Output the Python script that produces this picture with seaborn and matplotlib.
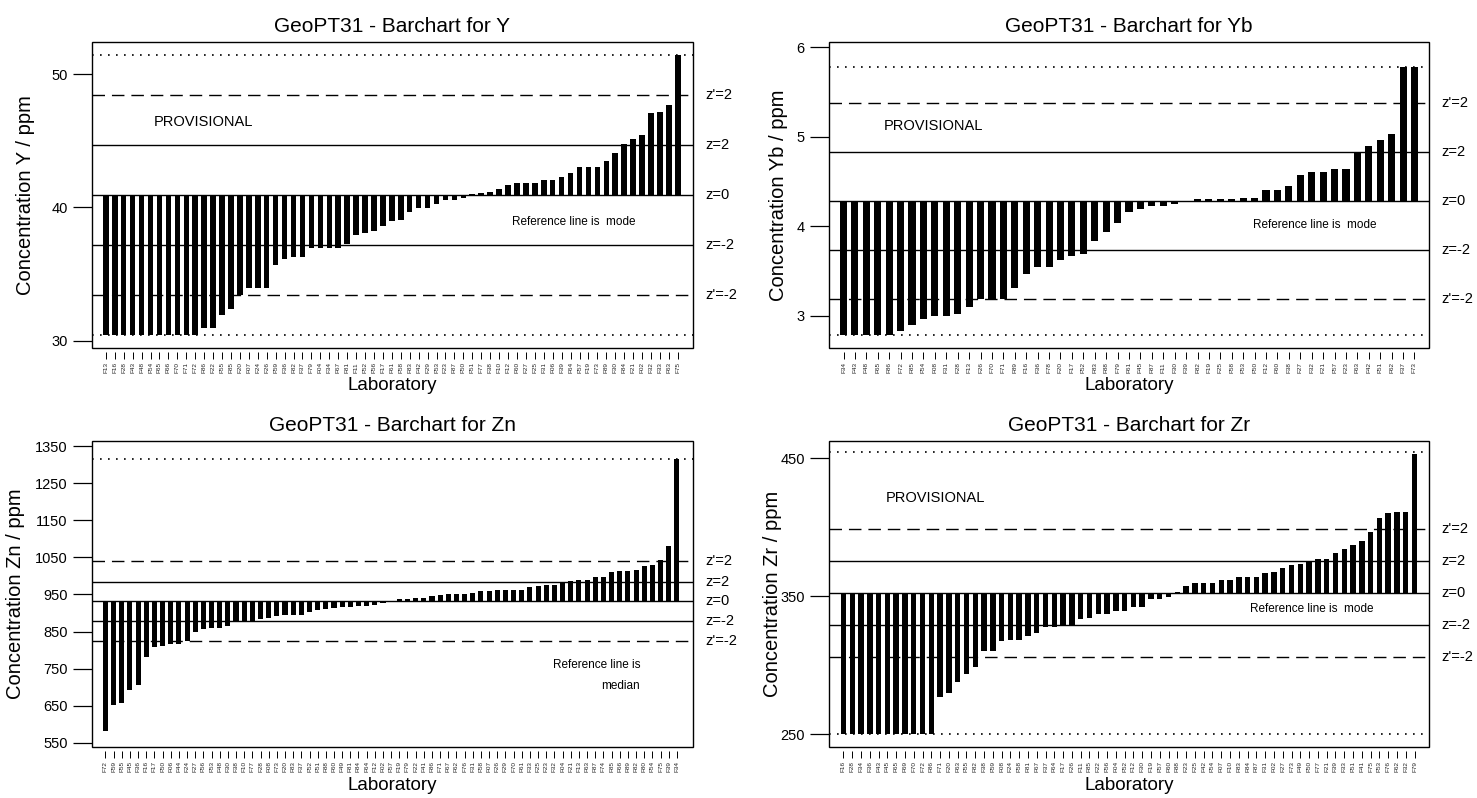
import numpy as np
import pandas as pd
import matplotlib
matplotlib.use("Agg")
import matplotlib.pyplot as plt
import matplotlib.transforms as mtrans
from matplotlib.patches import Rectangle
import seaborn as sns

sns.set_style("ticks")
plt.rcParams['font.family'] = ['Liberation Sans', 'DejaVu Sans']
plt.rcParams['text.color'] = 'black'
plt.rcParams['xtick.color'] = 'black'
plt.rcParams['ytick.color'] = 'black'

# ---------------- data ----------------
y_labels = ["F13", "F16", "F28", "F43", "F48", "F54", "F65", "F66", "F70", "F71", "F72", "F86", "F22",
            "F55", "F85", "F20", "F07", "F24", "F26", "F59", "F36", "F82", "F37", "F79", "F04", "F34",
            "F67", "F81", "F11", "F52", "F56", "F17", "F61", "F58", "F83", "F42", "F29", "F53", "F23",
            "F87", "F50", "F51", "F77", "F38", "F10", "F12", "F60", "F27", "F25", "F31", "F06", "F39",
            "F64", "F57", "F19", "F73", "F89", "F30", "F84", "F21", "F02", "F32", "F33", "F63", "F75"]
y_values = [30.4] * 11 + [30.95, 30.95, 31.9, 32.4, 33.4, 33.95, 33.95, 33.95, 35.65, 36.1, 36.25, 36.25,
            36.95, 36.95, 36.95, 36.95, 37.25, 37.95, 38.08, 38.2, 38.6, 38.95, 39.05, 39.63, 39.93,
            39.93, 40.25, 40.53, 40.53, 40.7, 41.0, 41.1, 41.13, 41.38, 41.65, 41.85, 41.85, 41.85,
            42.08, 42.08, 42.28, 42.58, 43.0, 43.05, 43.05, 43.5, 44.05, 44.75, 45.13, 45.45, 47.1,
            47.15, 47.68, 51.4]
y_ref = 40.9
y_z = [44.65, 37.15]          # z=2, z=-2
y_zp = [48.4, 33.4]           # z'=2, z'=-2
y_lim_lines = [51.4, 30.4]
y_ticks = [30, 40, 50]

yb_labels = ["F34", "F43", "F48", "F65", "F86", "F72", "F85", "F54", "F08", "F31", "F28", "F13", "F26",
             "F70", "F71", "F89", "F16", "F36", "F78", "F20", "F17", "F52", "F83", "F88", "F79", "F61",
             "F45", "F87", "F11", "F30", "F39", "F82", "F19", "F25", "F58", "F53", "F50", "F12", "F60",
             "F38", "F27", "F32", "F21", "F57", "F23", "F63", "F42", "F51", "F62", "F37", "F73"]
yb_values = [2.79] * 5 + [2.83, 2.90, 2.96, 3.00, 3.00, 3.02, 3.10, 3.19, 3.19, 3.19, 3.31, 3.47, 3.54,
             3.54, 3.62, 3.67, 3.69, 3.83, 3.93, 4.04, 4.16, 4.19, 4.22, 4.22, 4.25, 4.27, 4.30, 4.30,
             4.30, 4.30, 4.31, 4.31, 4.40, 4.40, 4.45, 4.57, 4.61, 4.61, 4.64, 4.64, 4.83, 4.89, 4.96,
             5.03, 5.78, 5.78]
yb_ref = 4.28
yb_z = [4.826, 3.733]
yb_zp = [5.378, 3.189]
yb_lim_lines = [5.778, 2.79]
yb_ticks = [3, 4, 5, 6]

zn_labels = ["F72", "F59", "F55", "F45", "F36", "F16", "F17", "F50", "F06", "F44", "F24", "F27", "F56",
             "F53", "F48", "F30", "F38", "F10", "F77", "F28", "F08", "F73", "F20", "F83", "F37", "F52",
             "F51", "F88", "F60", "F49", "F81", "F84", "F64", "F12", "F02", "F57", "F19", "F79", "F22",
             "F41", "F86", "F71", "F67", "F62", "F76", "F31", "F58", "F07", "F26", "F29", "F70", "F61",
             "F33", "F25", "F23", "F32", "F04", "F21", "F13", "F63", "F87", "F74", "F85", "F66", "F89",
             "F82", "F80", "F54", "F75", "F39", "F34"]
zn_values = [582, 651, 657.5, 692, 706, 782, 809, 811.5, 817.6, 817.6, 825, 850, 857.2, 859, 859, 864.4,
             875.2, 877, 877, 884, 886, 892.3, 895, 895, 895, 902, 908.5, 911, 913, 916.5, 917.4, 918.3,
             920, 922.9, 926.5, 929.1, 938, 938, 941.7, 941.7, 946, 948, 952.5, 952.5, 952.5, 955.2,
             960.6, 960.6, 962.4, 962.4, 962.4, 963.3, 970.5, 974.1, 976.8, 976.8, 984.9, 985.8, 990.3,
             990.3, 996.6, 998.4, 1009.2, 1011.9, 1011.9, 1014.6, 1025.4, 1028.1, 1041.6, 1080.2, 1315.8]
zn_ref = 932.7
zn_z = [984.9, 879.7]
zn_zp = [1039.7, 825.7]
zn_lim_lines = [1315.8]
zn_ticks = [550, 650, 750, 850, 950, 1050, 1150, 1250, 1350]

zr_labels = ["F16", "F28", "F34", "F36", "F43", "F45", "F65", "F69", "F70", "F72", "F86", "F71", "F20",
             "F63", "F55", "F82", "F38", "F59", "F08", "F24", "F58", "F81", "F67", "F37", "F64", "F17",
             "F26", "F11", "F85", "F22", "F56", "F04", "F52", "F12", "F30", "F19", "F57", "F60", "F88",
             "F23", "F25", "F42", "F54", "F07", "F10", "F83", "F84", "F87", "F31", "F02", "F27", "F73",
             "F49", "F50", "F77", "F21", "F39", "F33", "F51", "F41", "F75", "F53", "F76", "F62", "F32",
             "F79"]
zr_values = [250.2] * 11 + [276.5, 279.4, 288, 293.3, 298.6, 310.4, 310.4, 317.4, 318.4, 318.4, 321.2,
             323.6, 327.7, 327.7, 328.7, 328.7, 333.3, 334.2, 337.4, 337.4, 339.0, 339.0, 342.2, 342.2,
             348.2, 348.2, 349.4, 353.2, 357.1, 359.3, 359.3, 359.3, 361.9, 361.9, 363.6, 363.6, 363.6,
             367.0, 367.4, 370.1, 372.7, 373.2, 375.4, 376.6, 376.6, 381.2, 384.5, 387.4, 390.3, 396.8,
             406.9, 410.3, 411.3, 411.3, 453.0]
zr_ref = 352.5
zr_z = [375.6, 329.2]
zr_zp = [399.0, 306.1]
zr_lim_lines = [454.8, 250.2]
zr_ticks = [250, 350, 450]

# ---------------- figure ----------------
W, H = 1477, 798
fig = plt.figure(figsize=(W / 100, H / 100), dpi=100)


def px_axes(x0, y0, x1, y1):
    return fig.add_axes([x0 / W, 1 - y1 / H, (x1 - x0) / W, (y1 - y0) / H])


def panel(box, labels, values, ref, zlev, zplev, limlev, yticks, ylim, xpad, title, ylabel,
          ylab_x, prov=None, reftext=None):
    x0, y0, x1, y1 = box
    ax = px_axes(x0, y0, x1, y1)
    n = len(values)
    df = pd.DataFrame({"pos": np.arange(n), "dev": np.asarray(values, float) - ref})
    sns.barplot(data=df, x="pos", y="dev", bottom=ref, color="black", saturation=1,
                width=0.62, errorbar=None, linewidth=0, ax=ax)
    ax.set_xlim(-xpad[0], n - 1 + xpad[1])
    ax.set_ylim(*ylim)
    ax.set_xlabel("")
    ax.set_ylabel("")

    # reference lines
    ax.axhline(ref, color="black", lw=1.0, zorder=3)
    for lv in zlev:
        ax.axhline(lv, color="black", lw=1.0, zorder=3)
    for lv in zplev:
        ax.axhline(lv, color="black", lw=1.0, ls=(0, (9, 5)), zorder=3)
    for lv in limlev:
        ax.axhline(lv, color="black", lw=1.2, ls=(0, (1, 3.8)), zorder=3)

    # right side labels
    tr = mtrans.blended_transform_factory(ax.transAxes, ax.transData)
    xo = 1 + 12 / (x1 - x0)
    for lv, t in [(zplev[0], "z'=2"), (zlev[0], "z=2"), (ref, "z=0"), (zlev[1], "z=-2"),
                  (zplev[1], "z'=-2")]:
        ax.text(xo, lv, t, transform=tr, ha="left", va="center", fontsize=10.5, clip_on=False)

    # box and ticks
    for s in ax.spines.values():
        s.set_visible(False)
    ax.spines["bottom"].set_position(("outward", 3))
    ax.add_patch(Rectangle((0, 0), 1, 1, transform=ax.transAxes, fill=False, lw=1.0,
                           ec="black", clip_on=False, zorder=6))
    ax.set_yticks(yticks)
    ax.set_yticklabels([str(t) for t in yticks])
    ax.tick_params(axis="y", direction="out", length=14, width=0.9, labelsize=10.5, pad=3.5,
                   left=True)
    ax.set_xticks(np.arange(n))
    ax.set_xticklabels(labels, rotation=90, fontsize=4.6, color="#222222")
    ax.tick_params(axis="x", direction="out", length=5, width=0.7, pad=2, bottom=True)

    # texts
    cx = (x0 + x1) / 2
    ax.set_title(title, fontsize=15, pad=7)
    fig.text(cx / W, 1 - (y1 + 38) / H, "Laboratory", ha="center", va="center", fontsize=13.5)
    fig.text(ylab_x / W, 1 - ((y0 + y1) / 2) / H, ylabel, rotation=90, ha="center",
             va="center", fontsize=14.5)
    if prov is not None:
        ax.text(prov[0], prov[1], "PROVISIONAL", transform=ax.transAxes, ha="left",
                va="center", fontsize=10.5)
    if reftext is not None:
        for (tx, ty, txt, ha) in reftext:
            ax.text(tx, ty, txt, transform=ax.transAxes, ha=ha, va="center", fontsize=8.5)
    return ax


panel((92, 42, 693, 348), y_labels, y_values, y_ref, y_z, y_zp, y_lim_lines, y_ticks,
      (29.45, 52.4), (1.55, 1.7), "GeoPT31 - Barchart for Y", "Concentration Y / ppm", 26,
      prov=(0.103, 0.738), reftext=[(0.699, 0.413, "Reference line is  mode", "left")])

panel((829, 42, 1429, 348), yb_labels, yb_values, yb_ref, yb_z, yb_zp, yb_lim_lines, yb_ticks,
      (2.64, 6.056), (1.27, 1.27), "GeoPT31 - Barchart for Yb", "Concentration Yb / ppm", 779,
      prov=(0.092, 0.726), reftext=[(0.706, 0.403, "Reference line is  mode", "left")])

panel((92, 441, 693, 747), zn_labels, zn_values, zn_ref, zn_z, zn_zp, zn_lim_lines, zn_ticks,
      (539, 1363.5), (1.64, 1.97), "GeoPT31 - Barchart for Zn", "Concentration Zn / ppm", 16,
      prov=None, reftext=[(0.912, 0.267, "Reference line is", "right"),
                          (0.912, 0.200, "median", "right")])

panel((829, 441, 1429, 747), zr_labels, zr_values, zr_ref, zr_z, zr_zp, zr_lim_lines, zr_ticks,
      (240.6, 462.5), (1.65, 1.65), "GeoPT31 - Barchart for Zr", "Concentration Zr / ppm", 772,
      prov=(0.094, 0.813), reftext=[(0.702, 0.45, "Reference line is  mode", "left")])

fig.savefig("out.png", dpi=100)
